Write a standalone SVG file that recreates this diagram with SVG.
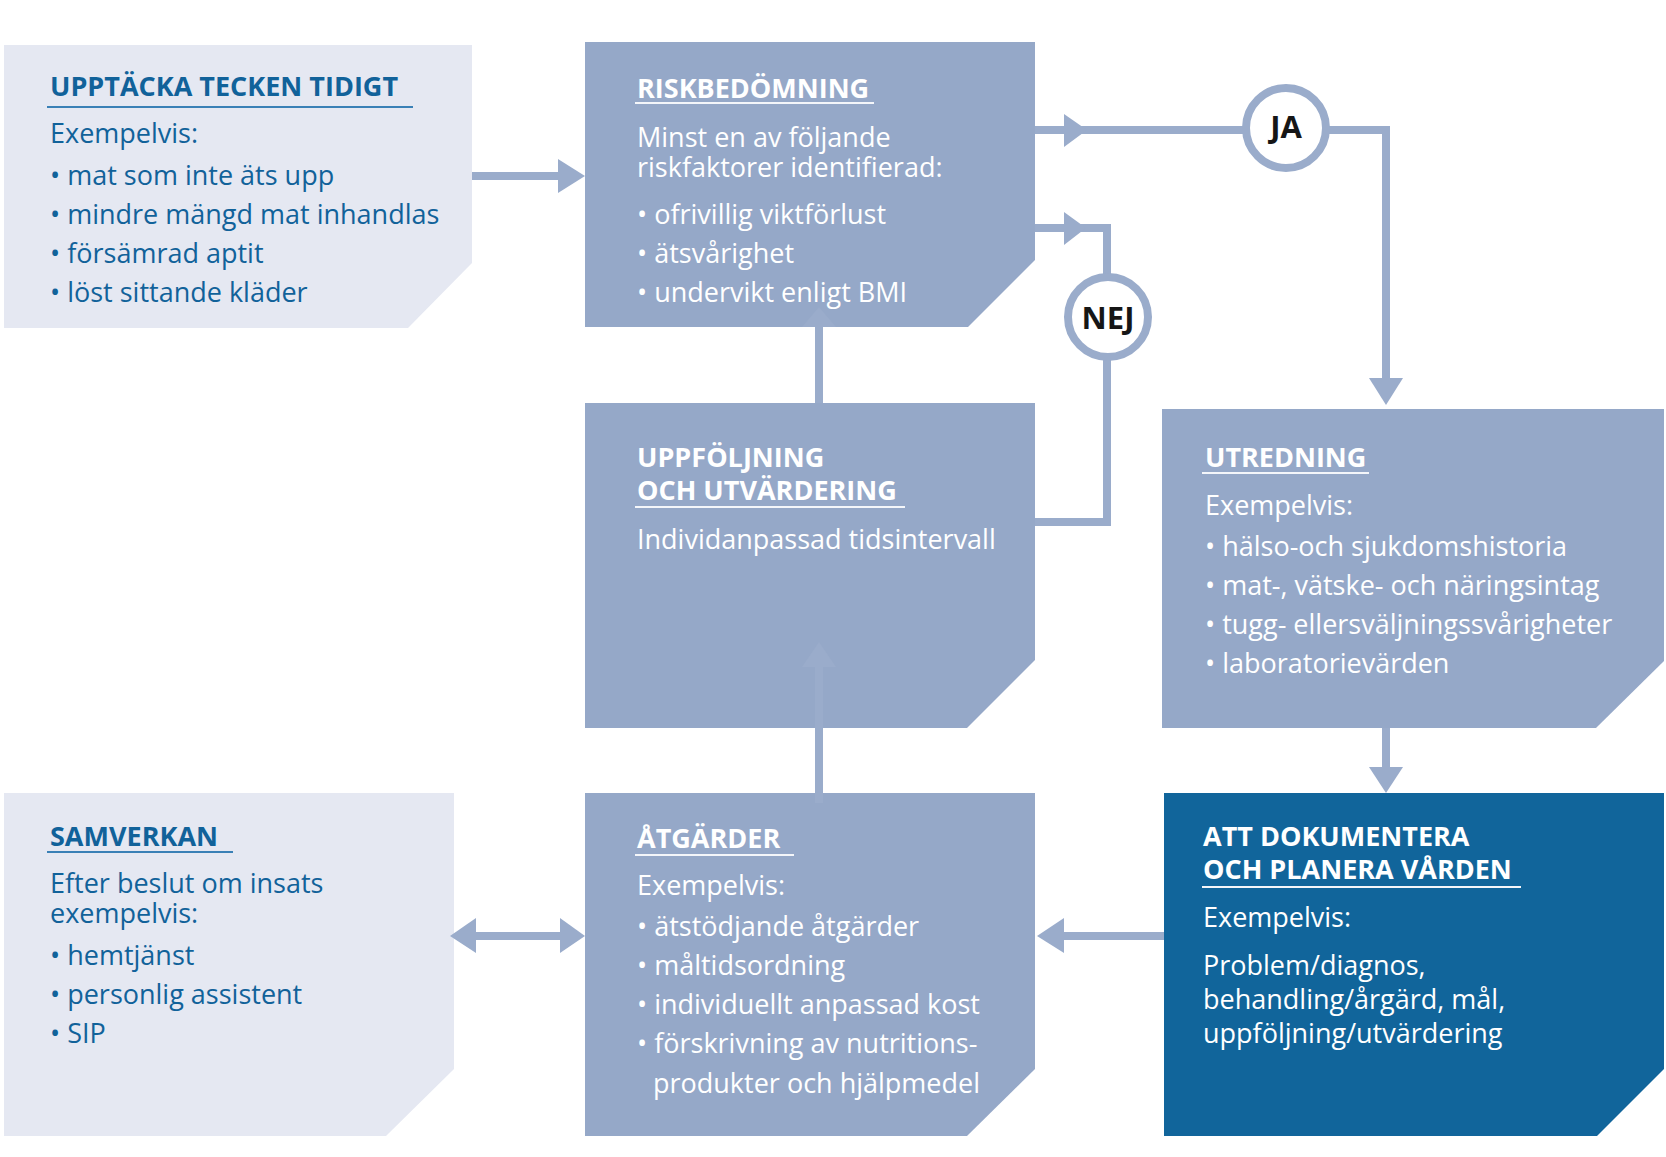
<svg xmlns="http://www.w3.org/2000/svg" width="1666" height="1157" viewBox="0 0 1666 1157">
<style>
.light{fill:#e5e8f2}
.mid{fill:#95a8c8}
.dark{fill:#11659b}
.t{font-family:'Open Sans','Liberation Sans',sans-serif;font-size:27px;font-weight:400}
.h{font-family:'Open Sans','Liberation Sans',sans-serif;font-size:27px;font-weight:700}
.blue{fill:#11629a}
.wh{fill:#ffffff}
.ulb{stroke:#3a80b6;stroke-width:2}
.ulw{stroke:#f4f6fa;stroke-width:2}
.conn{stroke:#9aaccb;stroke-width:8;fill:none}
.head{fill:#9aaccb}
.circ{fill:#ffffff;stroke:#9aaccb;stroke-width:8}
.lbl{font-family:'Open Sans','Liberation Sans',sans-serif;font-size:31px;font-weight:700;fill:#161616;text-anchor:middle}
</style>
<rect width="1666" height="1157" fill="#ffffff"/>

<g id="node-upptacka">
<polygon class="light" points="4,45 472,45 472,263 408,328 4,328"/>
<text class="h blue" x="50" y="96">UPPTÄCKA TECKEN TIDIGT</text>
<line class="ulb" x1="47" y1="107" x2="413" y2="107"/>
<text class="t blue" x="50" y="143">Exempelvis:</text>
<text class="t blue" x="50" y="185">• mat som inte äts upp</text>
<text class="t blue" x="50" y="224">• mindre mängd mat inhandlas</text>
<text class="t blue" x="50" y="263">• försämrad aptit</text>
<text class="t blue" x="50" y="302">• löst sittande kläder</text>
</g>

<g id="node-riskbedomning">
<polygon class="mid" points="585,42 1035,42 1035,260 968,327 585,327"/>
<text class="h wh" x="637" y="98">RISKBEDÖMNING</text>
<line class="ulw" x1="635" y1="103" x2="874" y2="103"/>
<text class="t wh" x="637" y="147">Minst en av följande</text>
<text class="t wh" x="637" y="177">riskfaktorer identifierad:</text>
<text class="t wh" x="637" y="224">• ofrivillig viktförlust</text>
<text class="t wh" x="637" y="263">• ätsvårighet</text>
<text class="t wh" x="637" y="302">• undervikt enligt BMI</text>
</g>

<g id="node-uppfoljning">
<polygon class="mid" points="585,403 1035,403 1035,660 967,728 585,728"/>
<text class="h wh" x="637" y="467">UPPFÖLJNING</text>
<text class="h wh" x="637" y="500">OCH UTVÄRDERING</text>
<line class="ulw" x1="635" y1="507" x2="905" y2="507"/>
<text class="t wh" x="637" y="549">Individanpassad tidsintervall</text>
</g>

<g id="node-utredning">
<polygon class="mid" points="1162,409 1664,409 1664,661 1596,728 1162,728"/>
<text class="h wh" x="1205" y="467">UTREDNING</text>
<line class="ulw" x1="1202" y1="473" x2="1369" y2="473"/>
<text class="t wh" x="1205" y="515">Exempelvis:</text>
<text class="t wh" x="1205" y="556">• hälso-och sjukdomshistoria</text>
<text class="t wh" x="1205" y="595">• mat-, vätske- och näringsintag</text>
<text class="t wh" x="1205" y="634">• tugg- ellersväljningssvårigheter</text>
<text class="t wh" x="1205" y="673">• laboratorievärden</text>
</g>

<g id="node-samverkan">
<polygon class="light" points="4,793 454,793 454,1069 386,1136 4,1136"/>
<text class="h blue" x="50" y="846">SAMVERKAN</text>
<line class="ulb" x1="47" y1="852" x2="233" y2="852"/>
<text class="t blue" x="50" y="893">Efter beslut om insats</text>
<text class="t blue" x="50" y="923">exempelvis:</text>
<text class="t blue" x="50" y="965">• hemtjänst</text>
<text class="t blue" x="50" y="1004">• personlig assistent</text>
<text class="t blue" x="50" y="1043">• SIP</text>
</g>

<g id="node-atgarder">
<polygon class="mid" points="585,793 1035,793 1035,1069 967,1136 585,1136"/>
<text class="h wh" x="637" y="848">ÅTGÄRDER</text>
<line class="ulw" x1="635" y1="855" x2="794" y2="855"/>
<text class="t wh" x="637" y="895">Exempelvis:</text>
<text class="t wh" x="637" y="936">• ätstödjande åtgärder</text>
<text class="t wh" x="637" y="975">• måltidsordning</text>
<text class="t wh" x="637" y="1014">• individuellt anpassad kost</text>
<text class="t wh" x="637" y="1053">• förskrivning av nutritions-</text>
<text class="t wh" x="653" y="1093">produkter och hjälpmedel</text>
</g>

<g id="node-dokumentera">
<polygon class="dark" points="1164,793 1664,793 1664,1069 1597,1136 1164,1136"/>
<text class="h wh" x="1203" y="846">ATT DOKUMENTERA</text>
<text class="h wh" x="1203" y="879">OCH PLANERA VÅRDEN</text>
<line class="ulw" x1="1202" y1="887" x2="1521" y2="887"/>
<text class="t wh" x="1203" y="927">Exempelvis:</text>
<text class="t wh" x="1203" y="975">Problem/diagnos,</text>
<text class="t wh" x="1203" y="1009">behandling/årgärd, mål,</text>
<text class="t wh" x="1203" y="1043">uppföljning/utvärdering</text>
</g>

<g id="connectors">
<line class="conn" x1="472" y1="176" x2="562" y2="176"/>
<polygon class="head" points="558,159 585,176 558,193"/>

<path class="conn" d="M1035,130 H1250 M1322,130 H1386 V382"/>
<polygon class="head" points="1064,114 1087,130 1064,147"/>
<polygon class="head" points="1369,378 1403,378 1386,405"/>

<path class="conn" d="M1035,228 H1107 V280 M1107,355 V522 H1035"/>
<polygon class="head" points="1064,212 1086,228 1064,245"/>

<line class="conn" x1="819" y1="403" x2="819" y2="325"/>
<polygon class="head" points="802,327 836,327 819,307"/>

<line class="conn" x1="819" y1="803" x2="819" y2="665"/>
<polygon class="head" points="802,667 836,667 819,642"/>

<line class="conn" x1="474" y1="936" x2="562" y2="936"/>
<polygon class="head" points="476,918 450,936 476,953"/>
<polygon class="head" points="560,918 585,936 560,953"/>

<line class="conn" x1="1164" y1="936" x2="1062" y2="936"/>
<polygon class="head" points="1064,918 1037,936 1064,953"/>

<line class="conn" x1="1386" y1="728" x2="1386" y2="770"/>
<polygon class="head" points="1369,767 1403,767 1386,793"/>
</g>

<g id="node-ja">
<circle class="circ" cx="1286" cy="128" r="40"/>
<text class="lbl" x="1286" y="138">JA</text>
</g>
<g id="node-nej">
<circle class="circ" cx="1108" cy="317" r="40"/>
<text class="lbl" x="1108" y="329">NEJ</text>
</g>
</svg>
